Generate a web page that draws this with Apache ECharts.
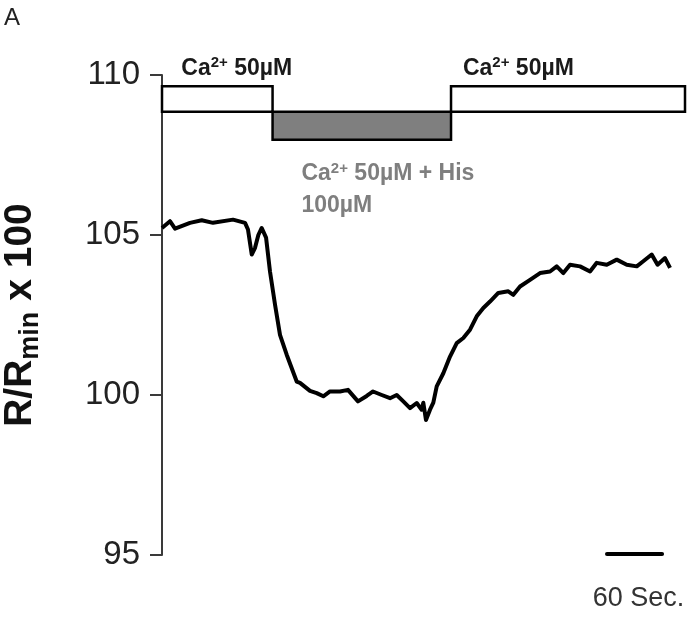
<!DOCTYPE html>
<html>
<head>
<meta charset="utf-8">
<script src="https://cdn.jsdelivr.net/npm/echarts@6/dist/echarts.min.js"></script>
<style>html,body{margin:0;padding:0;background:#fff}#c{width:689px;height:617px}</style>
</head>
<body>
<div id="c"></div>
<script>
// ---- data ----
const timeSec = [0, 8.7, 14.2, 30.5, 43.3, 55.6, 77.4, 90.5, 93.7, 97.8, 101.4, 105, 108.7, 113.4, 117.7, 123.2, 128.6, 135.9, 146.8, 150.4, 161.3, 168.6, 175.8, 183.1, 194, 202.7, 213.6, 223.1, 230, 239.5, 248.5, 255.8, 263, 270.3, 277.6, 283, 284.8, 287.7, 292.1, 295.7, 299.4, 306.6, 313.9, 321.2, 328.4, 335.7, 343, 350.2, 357.5, 366.5, 377.4, 382.9, 390.2, 401.1, 412, 422.9, 430.2, 437.4, 444.7, 455.6, 466.5, 473.8, 484.7, 495.6, 506.5, 517.4, 524.5, 533.7, 540.1, 548.2, 553.7];
const ratio = [105.22, 105.43, 105.20, 105.38, 105.46, 105.38, 105.48, 105.38, 105.17, 104.39, 104.6, 105.0, 105.22, 104.92, 103.86, 102.82, 101.88, 101.26, 100.42, 100.38, 100.13, 100.06, 99.96, 100.11, 100.11, 100.16, 99.8, 99.97, 100.11, 100.0, 99.9, 100.0, 99.8, 99.59, 99.75, 99.54, 99.76, 99.22, 99.54, 99.76, 100.27, 100.68, 101.2, 101.62, 101.78, 102.04, 102.46, 102.72, 102.92, 103.19, 103.24, 103.13, 103.39, 103.6, 103.81, 103.86, 104.02, 103.81, 104.07, 104.02, 103.86, 104.13, 104.07, 104.23, 104.07, 104.02, 104.18, 104.39, 104.07, 104.28, 103.97];
// application bars: [startSec, endSec, topValue, bottomValue]
const barStart = [0, 120.5, 315];
const barEnd = [120.5, 315, 570];
const barTop = [109.65, 108.85, 109.65];
const barBottom = [108.85, 107.98, 108.85];
const barIsDrug = [false, true, false];
// bar labels
const barLabelText = ['{t|Ca}{s|2+}{t| 50µM}', '{t|Ca}{s|2+}{t| 50µM}', '{g|Ca}{gs|2+}{g| 50µM + His}\n{g|100µM}'];
const barLabelX = [21, 328, 152];
const barLabelY = [110.6, 110.6, 107.42];
// scale bar
const scaleBarStart = 485, scaleBarEnd = 545, scaleBarValue = 95.03, scaleBarLabel = '60 Sec.';
const yTicks = {min: 95, max: 110, interval: 5};
const panelLetter = 'A';

const chart = echarts.init(document.getElementById('c'), null, {renderer: 'canvas'});
const FONT = 'Liberation Sans, Arial, sans-serif';
const trace = timeSec.map((t, i) => [t, ratio[i]]);
const bars = barStart.map((s, i) => [s, barEnd[i], barTop[i], barBottom[i], barIsDrug[i] ? 1 : 0]);
const labels = barLabelText.map((t, i) => [barLabelX[i], barLabelY[i], i]);

const rich = {
  t: {fontSize: 23, fontWeight: 'bold', fill: '#1a1a1a', fontFamily: FONT, lineHeight: 26},
  s: {fontSize: 15, fontWeight: 'bold', fill: '#1a1a1a', fontFamily: FONT, verticalAlign: 'top', padding: [0, 0, 8, 0], lineHeight: 15},
  g: {fontSize: 23, fontWeight: 'bold', fill: '#7f7f7f', fontFamily: FONT, lineHeight: 32},
  gs: {fontSize: 15, fontWeight: 'bold', fill: '#7f7f7f', fontFamily: FONT, padding: [0, 0, 9, 0], lineHeight: 15}
};

chart.setOption({
  animation: false,
  backgroundColor: '#fff',
  grid: {left: 162, right: 4, top: 75, bottom: 62, outerBoundsMode: 'none', containLabel: false},
  title: {text: panelLetter, left: 4, top: 6, padding: 0, textStyle: {fontSize: 24, fontWeight: 'normal', fontFamily: FONT, color: '#222'}},
  xAxis: {type: 'value', min: 0, max: 570, show: false},
  yAxis: {
    type: 'value', min: yTicks.min, max: yTicks.max, interval: yTicks.interval,
    splitLine: {show: false},
    axisLine: {show: true, lineStyle: {color: '#3a3a3a', width: 2}},
    axisTick: {show: true, length: 12, lineStyle: {color: '#3a3a3a', width: 2}},
    axisLabel: {fontSize: 33, color: '#222', fontFamily: FONT, margin: 22},
    name: '{a|R/R}{b|min}{a| x 100}',
    nameLocation: 'middle', nameRotate: 90, nameGap: 120,
    nameTextStyle: {
      rich: {
        a: {fontSize: 39, fontWeight: 'bold', color: '#111', fontFamily: FONT, lineHeight: 44},
        b: {fontSize: 27, fontWeight: 'bold', color: '#111', fontFamily: FONT, lineHeight: 28, padding: [22, 0, 0, 0]}
      }
    }
  },
  series: [
    {
      type: 'custom', clip: false, z: 2,
      data: bars,
      renderItem: (params, api) => {
        const p0 = api.coord([api.value(0), api.value(2)]);
        const p1 = api.coord([api.value(1), api.value(3)]);
        return {type: 'rect', shape: {x: p0[0], y: p0[1], width: p1[0] - p0[0], height: p1[1] - p0[1]},
          style: {fill: api.value(4) ? '#7f7f7f' : '#fff', stroke: '#000', lineWidth: 2.5}};
      }
    },
    {
      type: 'custom', clip: false, z: 3,
      data: labels,
      renderItem: (params, api) => {
        const p = api.coord([api.value(0), api.value(1)]);
        return {type: 'text', x: p[0], y: p[1], style: {text: barLabelText[api.value(2)], rich: rich, align: 'left', verticalAlign: 'top'}};
      }
    },
    {
      type: 'line', data: trace, showSymbol: false, symbol: 'none', z: 4,
      lineStyle: {color: '#000', width: 4, join: 'round'}
    },
    {
      type: 'custom', clip: false, z: 4,
      data: [[scaleBarStart, scaleBarEnd, scaleBarValue]],
      renderItem: (params, api) => {
        const a = api.coord([api.value(0), api.value(2)]);
        const b = api.coord([api.value(1), api.value(2)]);
        return {type: 'group', children: [
          {type: 'line', shape: {x1: a[0], y1: a[1], x2: b[0], y2: b[1]}, style: {stroke: '#000', lineWidth: 4, lineCap: 'round'}},
          {type: 'text', x: (a[0] + b[0]) / 2 + 4, y: a[1] + 31, style: {text: scaleBarLabel, fontSize: 27, fontFamily: FONT, fill: '#333', align: 'center', verticalAlign: 'top'}}
        ]};
      }
    }
  ]
});
</script>
</body>
</html>
